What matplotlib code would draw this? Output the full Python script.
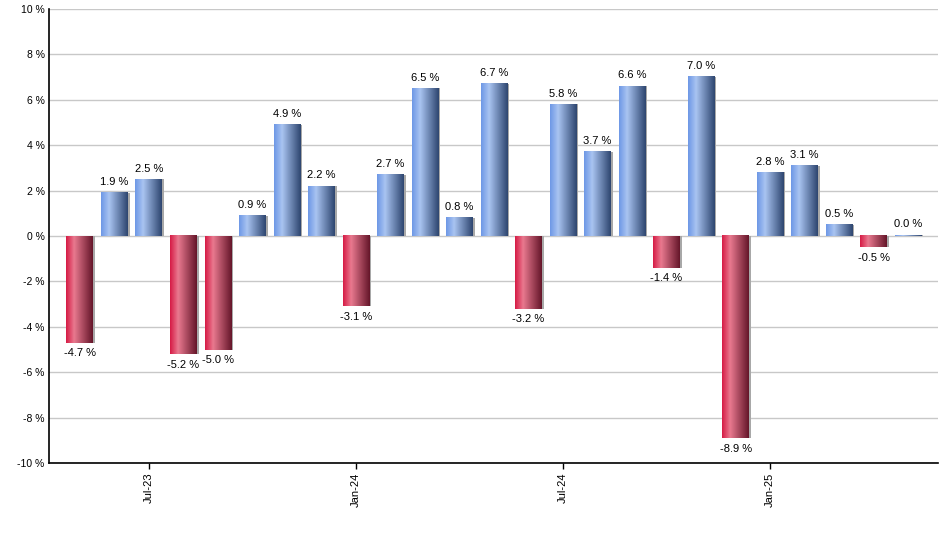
import numpy as np
import matplotlib.pyplot as plt
from matplotlib.colors import LinearSegmentedColormap

plt.rcParams['font.family'] = ['Liberation Sans', 'DejaVu Sans']

# monthly returns May-23 .. May-25
months = ['May-23', 'Jun-23', 'Jul-23', 'Aug-23', 'Sep-23', 'Oct-23', 'Nov-23', 'Dec-23',
          'Jan-24', 'Feb-24', 'Mar-24', 'Apr-24', 'May-24', 'Jun-24', 'Jul-24', 'Aug-24',
          'Sep-24', 'Oct-24', 'Nov-24', 'Dec-24', 'Jan-25', 'Feb-25', 'Mar-25', 'Apr-25', 'May-25']
values = [-4.7, 1.9, 2.5, -5.2, -5.0, 0.9, 4.9, 2.2, -3.1, 2.7, 6.5, 0.8, 6.7, -3.2, 5.8,
          3.7, 6.6, -1.4, 7.0, -8.9, 2.8, 3.1, 0.5, -0.5, 0.04]
labels = ['-4.7 %', '1.9 %', '2.5 %', '-5.2 %', '-5.0 %', '0.9 %', '4.9 %', '2.2 %', '-3.1 %',
          '2.7 %', '6.5 %', '0.8 %', '6.7 %', '-3.2 %', '5.8 %', '3.7 %', '6.6 %', '-1.4 %',
          '7.0 %', '-8.9 %', '2.8 %', '3.1 %', '0.5 %', '-0.5 %', '0.0 %']
tick_months = ['Jul-23', 'Jan-24', 'Jul-24', 'Jan-25']

blue = LinearSegmentedColormap.from_list('b', [(0, '#6e98e6'), (0.3, '#a9c4f1'), (1, '#2e4670')])
red = LinearSegmentedColormap.from_list('r', [(0, '#d61c46'), (0.3, '#e9798f'), (1, '#65162a')])

fig = plt.figure(figsize=(9.4, 5.5), dpi=100)
ax = fig.add_axes([0.052, 0.158, 0.946, 0.826])

x = np.arange(len(values))
w = 0.78
grad = np.linspace(0, 1, 64).reshape(1, -1)

# shadow
ax.bar(x + 0.05, values, width=w, color='#a8a8a8', zorder=2)
bars = ax.bar(x, values, width=w, color='none', zorder=3)
for b, v in zip(bars, values):
    x0, y0 = b.get_x(), b.get_y()
    ax.imshow(grad, cmap=blue if v >= 0 else red, aspect='auto', zorder=3,
              extent=(x0, x0 + b.get_width(), y0, y0 + b.get_height()))

for xi, v, t in zip(x, values, labels):
    if v >= 0:
        ax.annotate(t, (xi, v), xytext=(0, 4), textcoords='offset points',
                    ha='center', va='bottom', fontsize=8)
    else:
        ax.annotate(t, (xi, v), xytext=(0, -4), textcoords='offset points',
                    ha='center', va='top', fontsize=8)

ax.set_xlim(-0.9, 24.87)
ax.set_ylim(-10, 10)
ax.set_yticks(np.arange(-10, 11, 2))
ax.set_yticklabels([f'{t} %' for t in range(-10, 11, 2)], fontsize=7.5)
ax.set_xticks([months.index(m) for m in tick_months])
ax.set_xticklabels(tick_months, rotation=90, fontsize=8)
ax.tick_params(axis='y', length=0, pad=3)
ax.tick_params(axis='x', length=4, width=1, pad=3)
ax.grid(axis='y', color='#c8c8c8', linewidth=1, zorder=0)
ax.set_axisbelow(True)
for s in ['top', 'right']:
    ax.spines[s].set_visible(False)
for s in ['left', 'bottom']:
    ax.spines[s].set_linewidth(1.2)

fig.savefig('out.png', dpi=100)
